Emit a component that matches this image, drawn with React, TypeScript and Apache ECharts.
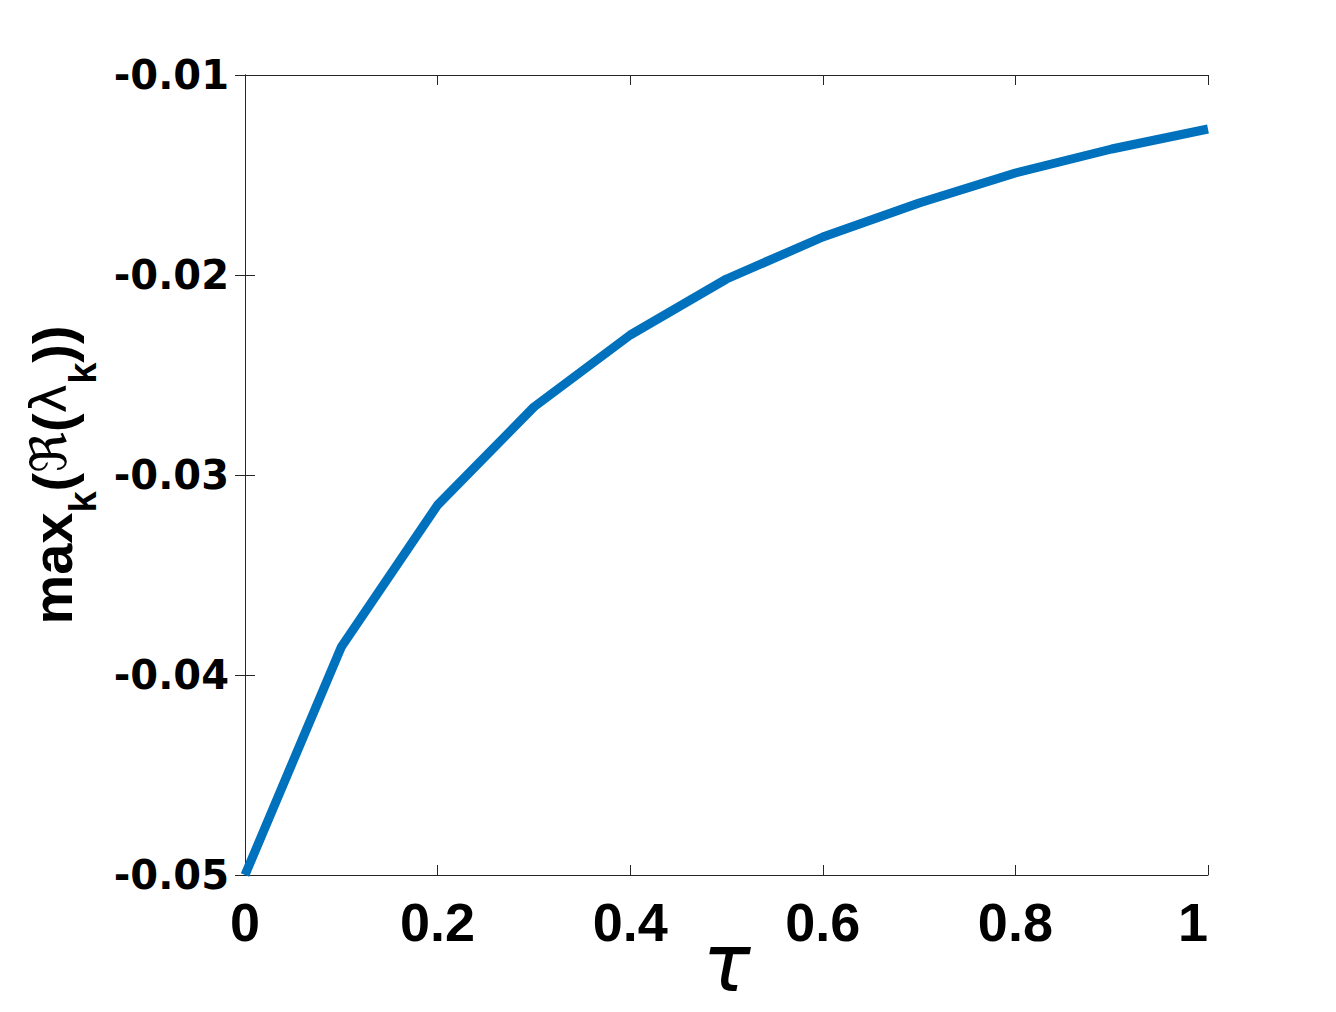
import React, { useEffect, useRef } from "react";
import * as echarts from "echarts";

const tau = [0, 0.1, 0.2, 0.3, 0.4, 0.5, 0.6, 0.7, 0.8, 0.9, 1.0];
const maxRealLambda = [
  -0.05, -0.0386, -0.0315, -0.0266, -0.023, -0.0202, -0.0181, -0.0164, -0.0149, -0.0137, -0.0127,
];
const xTickStep = 0.2;
const yTickStep = 0.01;

export default function App() {
  const ref = useRef<HTMLDivElement>(null);
  useEffect(() => {
    const chart = echarts.init(ref.current!, null, { renderer: "svg" });
    const axisLineStyle = { color: "#262626", width: 1 };
    const mainFont = { fontFamily: "Liberation Sans", fontWeight: "bold", fontSize: 56, lineHeight: 60, color: "#000", verticalAlign: "top" };
    chart.setOption({
      animation: false,
      backgroundColor: "#ffffff",
      grid: { left: 245, top: 75, right: 128, bottom: 137, containLabel: false, outerBoundsMode: "none" },
      xAxis: [
        {
          type: "value",
          position: "bottom",
          min: 0,
          max: 1,
          interval: xTickStep,
          axisLine: { show: true, lineStyle: axisLineStyle },
          axisTick: { show: true, inside: true, length: 10, lineStyle: axisLineStyle },
          splitLine: { show: false },
          axisLabel: {
            formatter: (v: number) => String(Math.round(v * 10) / 10),
            fontFamily: "Liberation Sans",
            fontWeight: "bold",
            fontSize: 54,
            color: "#000",
            margin: 20,
            alignMaxLabel: "right",
          },
          name: "τ",
          nameLocation: "middle",
          nameGap: 48,
          nameMoveOverlap: false,
          nameTextStyle: {
            fontFamily: "DejaVu Sans",
            fontStyle: "italic",
            fontSize: 80,
            lineHeight: 80,
            color: "#000",
            verticalAlign: "top",
          },
        },
        {
          type: "value",
          position: "top",
          min: 0,
          max: 1,
          interval: xTickStep,
          axisLine: { show: true, lineStyle: axisLineStyle },
          axisTick: { show: true, inside: true, length: 10, lineStyle: axisLineStyle },
          splitLine: { show: false },
          axisLabel: { show: false },
        },
      ],
      yAxis: [
        {
          type: "value",
          position: "left",
          min: -0.05,
          max: -0.01,
          interval: yTickStep,
          axisLine: { show: true, lineStyle: axisLineStyle },
          axisTick: { show: true, inside: true, length: 10, lineStyle: axisLineStyle },
          splitLine: { show: false },
          axisLabel: {
            formatter: (v: number) => v.toFixed(2),
            fontFamily: "DejaVu Sans",
            fontWeight: "bold",
            fontSize: 40,
            color: "#000",
            margin: 16,
          },
          name: "{m|max}{s|k}{m|(}{g|ℜ}{m|(}{g|λ}{s|k}{m|))}",
          nameLocation: "middle",
          nameRotate: 90,
          nameGap: 161,
          nameMoveOverlap: false,
          nameTextStyle: {
            rich: {
              m: mainFont,
              g: { ...mainFont, fontFamily: "DejaVu Sans", fontWeight: "normal", fontSize: 50 },
              s: {
                fontFamily: "Liberation Sans",
                fontWeight: "bold",
                fontSize: 38,
                lineHeight: 38,
                color: "#000",
                verticalAlign: "top",
                padding: [40, 0, 0, 0],
              },
            },
          },
        },
        {
          type: "value",
          position: "right",
          min: -0.05,
          max: -0.01,
          interval: yTickStep,
          axisLine: { show: true, lineStyle: axisLineStyle },
          axisTick: { show: true, inside: true, length: 10, lineStyle: axisLineStyle },
          splitLine: { show: false },
          axisLabel: { show: false },
        },
      ],
      series: [
        {
          type: "line",
          xAxisIndex: 0,
          yAxisIndex: 0,
          data: tau.map((t, i) => [t, maxRealLambda[i]]),
          showSymbol: false,
          symbol: "none",
          lineStyle: { color: "#0072BD", width: 9 },
          clip: true,
        },
      ],
    });
    return () => chart.dispose();
  }, []);
  return (
    <div
      ref={ref}
      style={{ position: "fixed", left: 0, top: 0, width: 1336, height: 1012, background: "#fff" }}
    />
  );
}
